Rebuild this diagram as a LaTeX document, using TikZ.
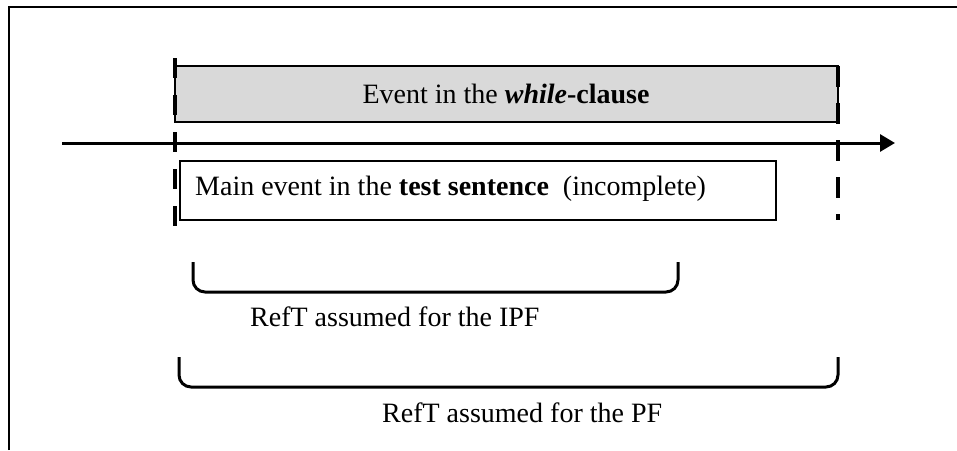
\documentclass[tikz,border=0pt]{standalone}
\usepackage{fontspec}
\setmainfont{Liberation Serif}
\usetikzlibrary{arrows.meta}
\begin{document}
\begin{tikzpicture}[x=1pt,y=-1pt,
  txt/.style={inner sep=0pt, font=\fontsize{28}{34}\selectfont},
  frameline/.style={line width=2pt},
  boundary/.style={line width=4pt, dash pattern=on 20pt off 17pt},
  bracketline/.style={line width=3pt, rounded corners=12pt},
  axisline/.style={line width=3pt, -{Triangle[length=15pt,width=17pt]}}]
\useasboundingbox (0,0) rectangle (957,450);
% outer frame (partial)
\draw[frameline] (9,450) -- (9,7) -- (957,7);
% while-clause event
\draw[line width=1.2pt, fill={rgb,255:red,217;green,217;blue,217}] (175,66) rectangle (838,122);
\node[txt, anchor=base] (ev) at (506,103) {Event in the \textbf{\textit{while}}\textbf{-clause}};
% main event box
\draw[line width=1.5pt, fill=white] (180,161) rectangle (776,220);
\node[txt, anchor=base west] (me) at (195,195) {Main event in the \textbf{test sentence}\ \ (incomplete)};
% time axis
\coordinate (axs) at (62,143);
\coordinate (axe) at (895,143);
\draw[axisline] (axs) -- (axe);
% boundaries
\coordinate (l1) at (175,58);
\coordinate (l2) at (175,230);
\coordinate (r1) at (838,66);
\coordinate (r2) at (838,220);
\draw[boundary] (l1) -- (l2);
\draw[boundary, dash pattern=on 21pt off 16pt] (r1) -- (r2);
% brackets
\draw[bracketline] (193,262) -- (193,292) -- (678,292) -- (678,262);
\node[txt, anchor=base west] (ipf) at (250,326) {RefT assumed for the IPF};
\draw[bracketline] (179,357) -- (179,387) -- (838,387) -- (838,357);
\node[txt, anchor=base west] (pf) at (382,422) {RefT assumed for the PF};
\end{tikzpicture}
\end{document}
